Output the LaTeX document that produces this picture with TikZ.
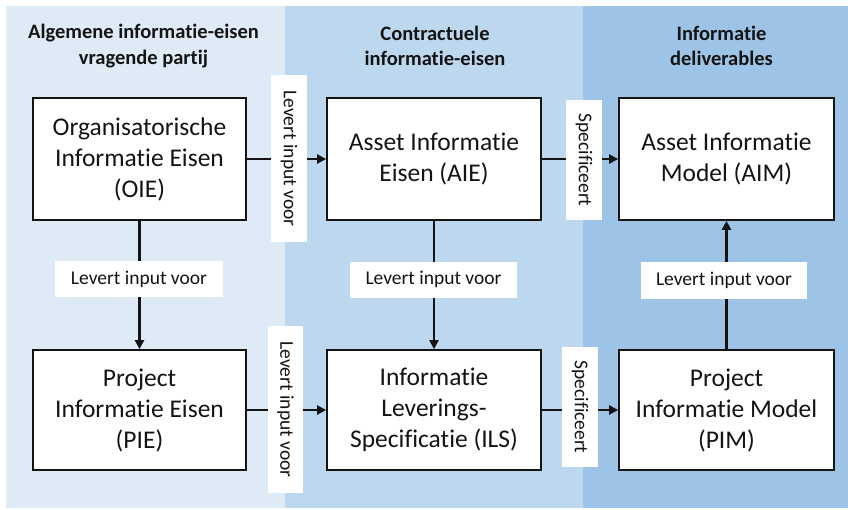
\documentclass[tikz,border=0pt]{standalone}
\usepackage{fontspec}
\setmainfont{Carlito}[Ligatures=NoCommon]
\usetikzlibrary{arrows.meta}
\definecolor{bandA}{HTML}{DEEBF7}
\definecolor{bandB}{HTML}{BDD7EE}
\definecolor{bandC}{HTML}{9DC3E6}
\definecolor{ink}{HTML}{141414}
\begin{document}
\begin{tikzpicture}[x=1pt,y=-1pt,
  block/.style={draw=ink,line width=1.7pt,fill=white,inner sep=0pt,align=center,
    text=ink,font=\fontsize{25.5}{31}\selectfont},
  head/.style={align=center,text=ink,font=\bfseries\fontsize{20.5}{25.5}\selectfont},
  tag/.style={fill=white,inner sep=0pt,text=ink,font=\fontsize{19.5}{23}\selectfont},
  flow/.style={line width=2.7pt,draw=ink,-{Triangle[length=9pt,width=9pt]}}]
\useasboundingbox (0,0) rectangle (848,509);
\fill[white] (0,0) rectangle (848,509);
% column bands
\fill[bandA] (6,6) rectangle (285,508);
\fill[bandB] (285,6) rectangle (583,508);
\fill[bandC] (583,6) rectangle (848,508);
% column headings
\node[head] (h1) at (143.5,46) {Algemene informatie-eisen\\vragende partij};
\node[head] (h2) at (435,46) {Contractuele\\informatie-eisen};
\node[head] (h3) at (721.5,46) {Informatie\\deliverables};
% information blocks
\node[block,minimum width=213,minimum height=122] (oie) at (139.5,159) {Organisatorische\\Informatie Eisen\\(OIE)};
\node[block,minimum width=214,minimum height=122] (aie) at (434,159) {Asset Informatie\\Eisen (AIE)};
\node[block,minimum width=215,minimum height=122] (aim) at (726.5,159) {Asset Informatie\\Model (AIM)};
\node[block,minimum width=213,minimum height=120] (pie) at (139.5,410) {Project\\Informatie Eisen\\(PIE)};
\node[block,minimum width=214,minimum height=120] (ils) at (434,410) {Informatie\\Leverings-\\Specificatie (ILS)};
\node[block,minimum width=215,minimum height=120] (pim) at (726.5,410) {Project\\Informatie Model\\(PIM)};
% connectors
\draw[flow] (oie.east) -- (aie.west);
\draw[flow] (aie.east) -- (aim.west);
\draw[flow] (pie.east) -- (ils.west);
\draw[flow] (ils.east) -- (pim.west);
\draw[flow] (oie.south) -- (pie.north);
\draw[flow] (aie.south) -- (ils.north);
\draw[flow] (pim.north) -- (aim.south);
% connector labels
\node[tag,rotate=-90,minimum width=167,minimum height=36] (t1) at (289,158.5) {Levert input voor};
\node[tag,rotate=-90,minimum width=167,minimum height=35] (t2) at (285.5,409.5) {Levert input voor};
\node[tag,rotate=-90,minimum width=120,minimum height=36] (t3) at (584,160) {Specificeert};
\node[tag,rotate=-90,minimum width=120,minimum height=36] (t4) at (580,407) {Specificeert};
\node[tag,minimum width=168,minimum height=36] (t5) at (139,279) {Levert input voor};
\node[tag,minimum width=167,minimum height=36] (t6) at (433.5,279.5) {Levert input voor};
\node[tag,minimum width=166,minimum height=37] (t7) at (724,280.5) {Levert input voor};
\end{tikzpicture}
\end{document}
